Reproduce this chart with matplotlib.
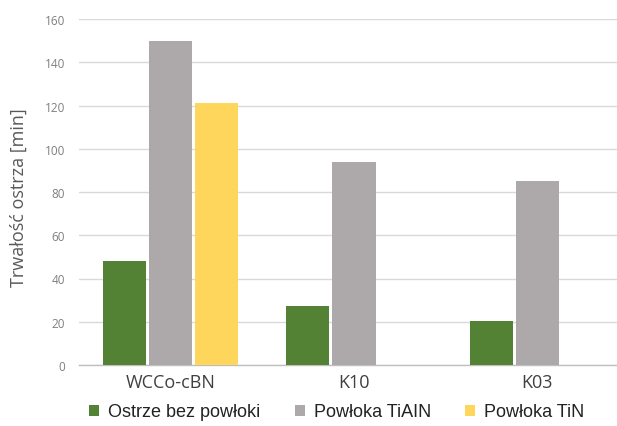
import matplotlib
matplotlib.use("Agg")
import matplotlib.pyplot as plt
import numpy as np

categories = ["WCCo-cBN", "K10", "K03"]
series_names = ["Ostrze bez powłoki", "Powłoka TiAIN", "Powłoka TiN"]
uncoated = [48, 27.5, 20.5]
tialn = [150, 94, 85]
tin = [121, 0, 0]
y_ticks = [0, 20, 40, 60, 80, 100, 120, 140, 160]

colors = ["#548235", "#ADA9AA", "#FFD65C"]

fig = plt.figure(figsize=(6.17, 4.27), dpi=100)
ax = fig.add_axes([79 / 617, 1 - 366 / 427, 550 / 617, 346 / 427])

x = np.arange(len(categories))
width = 0.235
offset = 0.252
handles = []
for i, (vals, col) in enumerate(zip([uncoated, tialn, tin], colors)):
    h = ax.bar(x + (i - 1) * offset, vals, width=width, color=col, zorder=3)
    handles.append(h)

ax.set_xlim(-0.5, 2.5)
ax.set_ylim(0, 160)
ax.set_yticks(y_ticks)
ax.set_yticklabels([str(v) for v in y_ticks], fontsize=8.5, color="#7f7f7f",
                   family="Open Sans")
ax.grid(axis="y", color="#d9d9d9", linewidth=1.0, zorder=0)
ax.set_xticks(x)
ax.set_xticklabels(categories, fontsize=13, color="#404040", family="Open Sans")
ax.tick_params(axis="y", length=0, pad=10)
ax.tick_params(axis="x", length=0, pad=6)
for side in ["top", "right", "left"]:
    ax.spines[side].set_visible(False)
ax.spines["bottom"].set_color("#bfbfbf")
ax.spines["bottom"].set_linewidth(1.0)

fig.text(19 / 617, 1 - 198 / 427, "Trwałość ostrza [min]", rotation=90,
         ha="center", va="center", fontsize=13, color="#595959", family="Open Sans")

fig.legend(handles, series_names, loc="center", bbox_to_anchor=(337 / 617, 1 - 413 / 427),
           ncol=3, frameon=False, prop={"family": "Liberation Sans", "size": 13},
           handlelength=0.55, handleheight=0.55, handletextpad=0.5, columnspacing=1.9,
           labelcolor="#222222", borderaxespad=0, borderpad=0)

fig.savefig("out.png", dpi=100)
